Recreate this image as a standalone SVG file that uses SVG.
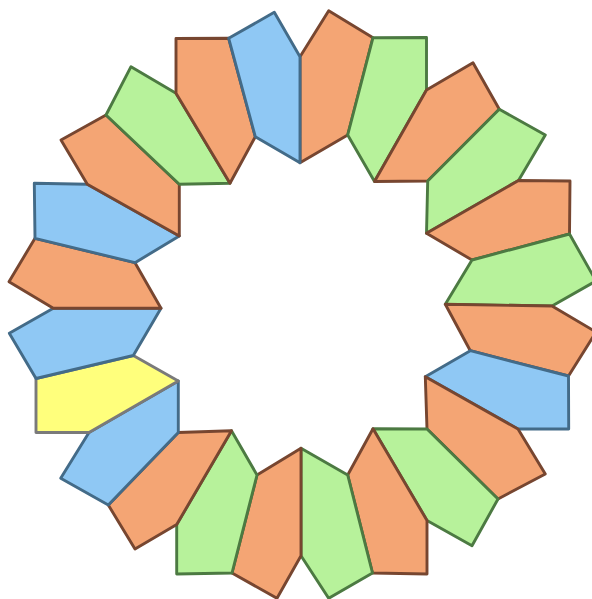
<svg xmlns="http://www.w3.org/2000/svg" width="592" height="599" viewBox="0 0 592 599">
<style>
polygon{stroke-width:2.9;stroke-linejoin:round}
.o{fill:#F4A574;stroke:#774630}
.g{fill:#B7F29B;stroke:#4C7A42}
.b{fill:#8FC8F4;stroke:#436B88}
.y{fill:#FFFF7C;stroke:#7A7A7A}
</style>
<rect width="592" height="599" fill="#FFFFFF"/>
<g id="p0"><polygon class="o" points="300,162.7 300,56.7 328.7,10.7 373,37.7 347.7,135"/></g>
<g id="p1"><polygon class="g" points="347.7,135 373,37.7 426.5,37.5 426.5,90 374.5,181.5"/></g>
<g id="p2"><polygon class="o" points="374.5,181.5 426.5,90 473,62.7 499.3,109.3 427.7,181"/></g>
<g id="p3"><polygon class="g" points="427.7,181 499.3,109.3 545.3,135 518.5,180.5 426.5,233.3"/></g>
<g id="p4"><polygon class="o" points="426.5,233.3 518.5,180.5 570,181 569.5,234 472,260"/></g>
<g id="p5"><polygon class="g" points="472,260 569.5,234 596,281 552,306 445.3,304.3"/></g>
<g id="p6"><polygon class="o" points="445.3,304.3 552,306 596,332 568.5,376 470.3,350.7"/></g>
<g id="p7"><polygon class="b" points="470.3,350.7 568.5,376 568.7,429 518,429 425.3,376.7"/></g>
<g id="p8"><polygon class="o" points="425.3,376.7 518,429 545.3,474 498,499 427,429"/></g>
<g id="p9"><polygon class="g" points="427,429 498,499 472,545.7 427,520.5 373,428.7"/></g>
<g id="p10"><polygon class="o" points="373,428.7 427,520.5 427,574 372.5,573 347.7,475"/></g>
<g id="p11"><polygon class="g" points="347.7,475 372.5,573 328.7,598.3 301,555.7 301,448.3"/></g>
<g id="p12"><polygon class="o" points="301,448.3 301,555.7 277,598.3 232,573 257,475"/></g>
<g id="p13"><polygon class="g" points="257,475 232,573 176.7,574 176.7,524.5 231.5,430.7"/></g>
<g id="p14"><polygon class="o" points="231.5,430.7 176.7,524.5 135,549 108.3,505 178.3,432.5"/></g>
<g id="p15"><polygon class="b" points="178.3,432.5 108.3,505 60.7,478.3 89,432.5 178.3,381"/></g>
<g id="p16"><polygon class="y" points="178.3,381 89,432.5 36,432.5 36,378.5 133.3,355.5"/></g>
<g id="p17"><polygon class="b" points="133.3,355.5 36,378.5 9.3,333.3 53.3,308.3 161,308.3"/></g>
<g id="p18"><polygon class="o" points="161,308.3 53.3,308.3 9,281.7 35,238.3 135,262.7"/></g>
<g id="p19"><polygon class="b" points="135,262.7 35,238.3 34.3,183.3 87.3,184.3 179.3,236"/></g>
<g id="p20"><polygon class="o" points="179.3,236 87.3,184.3 61,140 106,115 179.3,184.3"/></g>
<g id="p21"><polygon class="g" points="179.3,184.3 106,115 131,66.7 176,93.3 230,183.3"/></g>
<g id="p22"><polygon class="o" points="230,183.3 176,93.3 176,38.5 228.7,38.3 255.3,136.7"/></g>
<g id="p23"><polygon class="b" points="255.3,136.7 228.7,38.3 274.3,12.3 300,56.7 300,162.7"/></g>
<g id="connectors"></g>
</svg>
